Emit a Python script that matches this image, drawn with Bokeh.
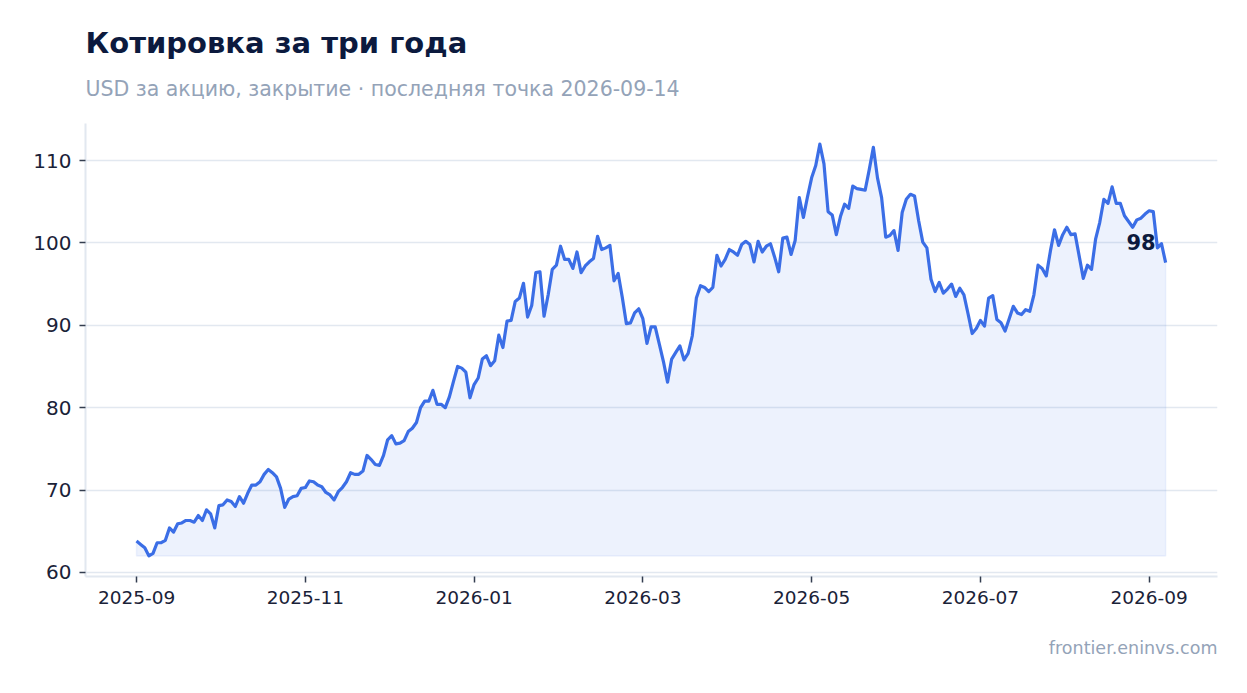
from bokeh.core.properties import value
from bokeh.embed import file_html
from bokeh.models import FixedTicker, Range1d, Title
from bokeh.plotting import figure
from bokeh.resources import INLINE

FONT = "DejaVu Sans"
LINE = "#3b6ee6"
NAVY = "#0c1a3e"
MUTED = "#94a3b8"
GRID = "#e2e8f0"

# closing prices, one per trading session
prices = [
    63.8, 63.4, 63.0, 62.0, 62.3, 63.6, 63.6, 63.9, 65.4, 64.9,
    65.9, 66.0, 66.3, 66.3, 66.1, 66.9, 66.3, 67.6, 67.1, 65.4,
    68.1, 68.2, 68.8, 68.6, 68.0, 69.2, 68.4, 69.6, 70.6, 70.6,
    71.0, 71.9, 72.5, 72.1, 71.6, 70.2, 67.9, 68.9, 69.2, 69.3,
    70.2, 70.3, 71.1, 71.0, 70.6, 70.4, 69.7, 69.4, 68.8, 69.8,
    70.3, 71.0, 72.1, 71.9, 71.9, 72.3, 74.2, 73.7, 73.1, 73.0,
    74.2, 76.1, 76.6, 75.6, 75.7, 76.0, 77.1, 77.5, 78.2, 80.0,
    80.8, 80.8, 82.1, 80.4, 80.4, 80.0, 81.3, 83.2, 85.0, 84.8,
    84.3, 81.2, 82.8, 83.6, 85.9, 86.3, 85.1, 85.7, 88.8, 87.3,
    90.5, 90.6, 92.9, 93.3, 95.1, 91.0, 92.4, 96.4, 96.5, 91.1,
    93.7, 96.8, 97.3, 99.6, 98.0, 98.0, 96.9, 98.9, 96.4, 97.2,
    97.7, 98.1, 100.8, 99.2, 99.4, 99.7, 95.4, 96.3, 93.4, 90.2,
    90.3, 91.5, 92.0, 90.8, 87.8, 89.8, 89.8, 87.7, 85.6, 83.1,
    85.9, 86.7, 87.5, 85.8, 86.6, 88.7, 93.3, 94.8, 94.6, 94.1,
    94.6, 98.5, 97.2, 98.0, 99.2, 98.9, 98.5, 99.8, 100.2, 99.8,
    97.7, 100.2, 98.9, 99.6, 99.9, 98.3, 96.5, 100.6, 100.7, 98.6,
    100.3, 105.5, 103.1, 105.6, 107.9, 109.4, 112.0, 109.6, 103.8, 103.4,
    101.0, 103.2, 104.7, 104.2, 106.9, 106.6, 106.5, 106.4, 108.9, 111.6,
    107.9, 105.5, 100.7, 100.9, 101.5, 99.1, 103.7, 105.3, 105.9, 105.7,
    102.7, 100.1, 99.4, 95.6, 94.1, 95.2, 93.9, 94.4, 95.0, 93.5,
    94.5, 93.7, 91.4, 89.0, 89.6, 90.6, 89.9, 93.3, 93.6, 90.7,
    90.3, 89.3, 90.8, 92.3, 91.5, 91.3, 91.9, 91.7, 93.7, 97.3,
    96.9, 96.0, 99.0, 101.6, 99.7, 101.0, 101.9, 101.0, 101.1, 98.4,
    95.7, 97.3, 96.8, 100.5, 102.5, 105.3, 104.8, 106.8, 104.8, 104.8,
    103.3, 102.6, 101.9, 102.8, 103.0, 103.5, 103.9, 103.8, 99.4, 99.9,
    97.6,
]

tick_idx = [0, 41, 82, 123, 164, 205, 246]
tick_labels = ["2025-09", "2025-11", "2026-01", "2026-03", "2026-05", "2026-07", "2026-09"]
y_ticks = [60, 70, 80, 90, 100, 110]

idx = list(range(len(prices)))
base = min(prices)

p = figure(
    width=1240,
    height=692,
    output_backend="svg",
    toolbar_location=None,
    x_range=Range1d(-12.4, 262.6),
    y_range=Range1d(59.5, 114.5),
    min_border_left=85,
    min_border_right=23,
    min_border_top=123,
    min_border_bottom=116,
    outline_line_color=None,
    background_fill_color="white",
    border_fill_color="white",
)
p.title.visible = False

# area under the line, down to the lowest close
p.patch(
    idx + idx[::-1],
    prices + [base] * len(prices),
    fill_color=LINE,
    fill_alpha=0.09,
    line_color=LINE,
    line_alpha=0.08,
    line_width=1.5,
)
p.line(idx, prices, line_color=LINE, line_width=3.2, line_join="round")

last = prices[-1]
p.text(
    [idx[-1]],
    [last],
    text=[f"{last:.0f}"],
    text_font=value(FONT),
    text_font_style="bold",
    text_font_size="21px",
    text_color=NAVY,
    text_align="right",
    text_baseline="middle",
    x_offset=-10,
    y_offset=-21,
)

p.xgrid.visible = False
p.ygrid.grid_line_color = GRID
p.ygrid.grid_line_width = 1.5

p.xaxis.ticker = FixedTicker(ticks=tick_idx)
p.xaxis.major_label_overrides = dict(zip(tick_idx, tick_labels))
p.yaxis.ticker = FixedTicker(ticks=y_ticks)

for ax in (p.xaxis, p.yaxis):
    ax.axis_line_color = GRID
    ax.axis_line_width = 2
    ax.major_tick_line_color = "#333d4f"
    ax.major_tick_line_width = 1.5
    ax.major_tick_in = 0
    ax.major_tick_out = 6
    ax.minor_tick_line_color = None
    ax.major_label_text_font = FONT
    ax.major_label_text_color = "#1a2238"
    ax.major_label_standoff = 8
p.xaxis.major_label_text_font_size = "18.5px"
p.yaxis.major_label_text_font_size = "20px"

# empty title used only as a gap between the subtitle and the plot
p.add_layout(Title(text=" ", text_font_size="1px", standoff=13), "above")
p.add_layout(
    Title(
        text="USD за акцию, закрытие · последняя точка 2026-09-14",
        text_font=FONT,
        text_font_size="20.5px",
        text_font_style="normal",
        text_color=MUTED,
        align="left",
        standoff=14,
    ),
    "above",
)
p.add_layout(
    Title(
        text="Котировка за три года",
        text_font=FONT,
        text_font_size="29px",
        text_font_style="bold",
        text_color=NAVY,
        align="left",
        standoff=15,
    ),
    "above",
)
p.add_layout(
    Title(
        text="frontier.eninvs.com",
        text_font=FONT,
        text_font_size="17.5px",
        text_font_style="normal",
        text_color=MUTED,
        align="right",
        standoff=58,
    ),
    "below",
)

open("out.html", "w").write(file_html(p, INLINE))
